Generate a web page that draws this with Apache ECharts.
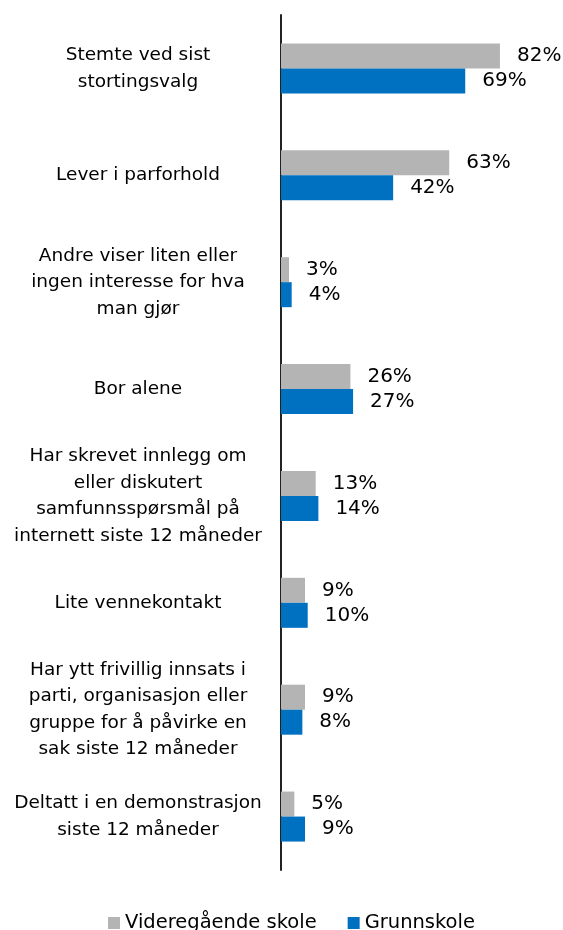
<!DOCTYPE html>
<html>
<head>
<meta charset="utf-8">
<script src="https://cdn.jsdelivr.net/npm/echarts@6/dist/echarts.min.js"></script>
<style>
    html, body { margin: 0; padding: 0; background: #fff; }
    #chart { width: 563px; height: 930px; }
</style>
</head>
<body>
<div id="chart"></div>
<script>
// kategorier (med linjeskift som i originalen)
var categories = [
    'Stemte ved sist\nstortingsvalg',
    'Lever i parforhold',
    'Andre viser liten eller\ningen interesse for hva\nman gjør',
    'Bor alene',
    'Har skrevet innlegg om\neller diskutert\nsamfunnsspørsmål på\ninternett siste 12 måneder',
    'Lite vennekontakt',
    'Har ytt frivillig innsats i\nparti, organisasjon eller\ngruppe for å påvirke en\nsak siste 12 måneder',
    'Deltatt i en demonstrasjon\nsiste 12 måneder'
];
var videregaende = [82, 63, 3, 26, 13, 9, 9, 5];
var grunnskole = [69, 42, 4, 27, 14, 10, 8, 9];

var font = 'DejaVu Sans';

var labelOpt = {
    show: true,
    position: 'right',
    distance: 17,
    formatter: '{c}%',
    color: '#000',
    fontFamily: font,
    fontSize: 20
};

var option = {
    animation: false,
    textStyle: { fontFamily: font },
    grid: { left: 281, right: 15, top: 15, bottom: 60 },
    legend: {
        top: 908,
        left: 103,
        itemWidth: 12,
        itemHeight: 12,
        itemGap: 31,
        icon: 'rect',
        textStyle: { fontFamily: font, fontSize: 19.5, color: '#000' },
        data: ['Videregående skole', 'Grunnskole']
    },
    xAxis: {
        type: 'value',
        min: 0,
        max: 100,
        show: false
    },
    yAxis: {
        type: 'category',
        inverse: true,
        data: categories,
        axisLine: { show: true, lineStyle: { color: '#222', width: 2 } },
        axisTick: { show: false },
        axisLabel: {
            align: 'center',
            margin: 143,
            color: '#000',
            fontFamily: font,
            fontSize: 18.5,
            lineHeight: 26.5
        }
    },
    series: [
        {
            name: 'Videregående skole',
            type: 'bar',
            data: videregaende,
            barWidth: 25,
            barGap: '0%',
            itemStyle: { color: '#B4B4B4' },
            label: labelOpt
        },
        {
            name: 'Grunnskole',
            type: 'bar',
            data: grunnskole,
            barWidth: 25,
            barGap: '0%',
            itemStyle: { color: '#0070C0' },
            label: labelOpt
        }
    ]
};

var myChart = echarts.init(document.getElementById('chart'));
myChart.setOption(option);
</script>
</body>
</html>
